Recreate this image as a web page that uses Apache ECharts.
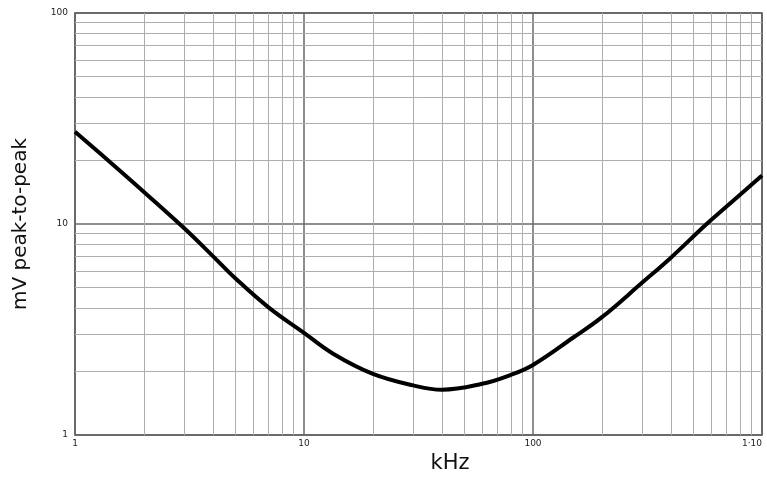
<!DOCTYPE html>
<html>
<head>
<meta charset="utf-8">
<script src="https://cdn.jsdelivr.net/npm/echarts@6/dist/echarts.min.js"></script>
<style>html,body{margin:0;padding:0;background:#fff;}#c{width:767px;height:479px;}</style>
</head>
<body>
<div id="c"></div>
<script>
// Data (frequency in kHz, ripple in mV peak-to-peak)
const freqKHz = [1, 1.5, 2, 3, 4, 5, 7, 10, 13.4, 20, 30, 40, 60, 80, 100, 150, 200, 300, 400, 573, 700, 1000];
const mvPP    = [27.4, 18.7, 14.2, 9.55, 7.05, 5.55, 4.03, 3.05, 2.43, 1.95, 1.72, 1.64, 1.75, 1.93, 2.15, 2.9, 3.62, 5.28, 6.93, 10, 12.1, 17];
// Minor grid positions (log paper)
const xMinorGrid = [2,3,4,5,6,7,8,9,20,30,40,50,60,70,80,90,200,300,400,500,600,700,800,900];
const yMinorGrid = [2,3,4,5,6,7,8,9,20,30,40,50,60,70,80,90];
const xTickLabels = {1:'1', 10:'10', 100:'100', 1000:'1·10'};
const yTickLabels = {1:'1', 10:'10', 100:'100'};

const chart = echarts.init(document.getElementById('c'), null, {renderer:'canvas'});
const pts = freqKHz.map((f,i)=>[f, mvPP[i]]);
const minorStyle = {color:'#adadad', width:1, type:'solid'};
chart.setOption({
  backgroundColor:'#fff',
  animation:false,
  grid:{left:75, right:5, top:13, bottom:40, show:true, borderColor:'#444', borderWidth:1.5, backgroundColor:'transparent'},
  xAxis:{
    type:'log', logBase:10, min:1, max:1000,
    name:'kHz', nameLocation:'middle', nameGap:15,
    nameTextStyle:{fontFamily:'DejaVu Sans', fontSize:21, color:'#111', padding:[0,0,0,63], verticalAlign:'top'},
    axisLine:{show:false}, axisTick:{show:false},
    axisLabel:{fontFamily:'DejaVu Sans', fontSize:9, color:'#222', margin:4, alignMaxLabel:'right',
      formatter:v=>xTickLabels[Math.round(v)] || ''},
    splitLine:{show:true, lineStyle:{color:'#686868', width:1.5}}
  },
  yAxis:{
    type:'log', logBase:10, min:1, max:100,
    name:'mV peak-to-peak', nameLocation:'middle', nameGap:44,
    nameTextStyle:{fontFamily:'DejaVu Sans', fontSize:20, color:'#111'},
    axisLine:{show:false}, axisTick:{show:false},
    axisLabel:{fontFamily:'DejaVu Sans', fontSize:9, color:'#222', margin:7,
      formatter:v=>yTickLabels[Math.round(v)] || ''},
    splitLine:{show:true, lineStyle:{color:'#686868', width:1.5}}
  },
  series:[
    {
      type:'line', data:[], z:1, silent:true,
      markLine:{
        silent:true, symbol:['none','none'], animation:false,
        label:{show:false}, lineStyle:minorStyle,
        data: xMinorGrid.map(v=>({xAxis:v})).concat(yMinorGrid.map(v=>({yAxis:v})))
      }
    },
    {
      type:'line', data:pts, z:5, smooth:0.4, symbol:'none',
      lineStyle:{color:'#000', width:4}
    }
  ]
});
</script>
</body>
</html>
